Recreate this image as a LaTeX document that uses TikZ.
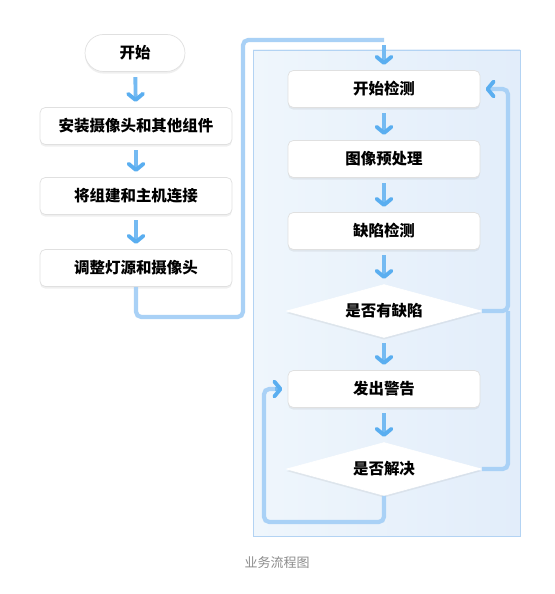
\documentclass[tikz,border=0pt]{standalone}
\usepackage{fontspec}
\setmainfont{Noto Sans CJK SC}
\usetikzlibrary{arrows.meta,shadows,shapes.geometric,positioning}

\definecolor{flowblue}{HTML}{74BAF2}
\definecolor{headblue}{HTML}{5AAEF0}
\definecolor{linkblue}{HTML}{A9D1F6}
\definecolor{panelline}{HTML}{B3D3F3}
\definecolor{panelleft}{HTML}{EFF6FC}
\definecolor{panelright}{HTML}{E2EDFA}

\begin{document}
\begin{tikzpicture}
[
	x	= 0.02cm,	% one unit is one pixel of the sketch
	y	= -0.02cm,	% and y runs downwards
	box/.style	= {draw=black!12, fill=white, rounded corners=3pt, minimum width=3.84cm, minimum height=0.74cm, font=\bfseries\fontsize{8.8}{10}\selectfont, drop shadow={opacity=0.12, shadow xshift=0pt, shadow yshift=-1.2pt}},
	pill/.style	= {box, rounded corners=0.37cm, minimum width=2cm},
	choice/.style	= {diamond, aspect=3.7, draw=white, fill=white, inner sep=0pt, minimum width=3.9cm, minimum height=1.06cm, font=\bfseries\fontsize{8.8}{10}\selectfont, drop shadow={opacity=0.12, shadow xshift=0pt, shadow yshift=-1.2pt}},
	flow/.style	= {-{Straight Barb[length=3.5pt, width=8.5pt, line width=2.2pt, round, color=headblue]}, color=flowblue, line width=2.2pt, shorten <=3pt, shorten >=3pt},
	link/.style	= {color=linkblue, line width=2.4pt, rounded corners=3pt},
]

\useasboundingbox [fill=white] (0,0) rectangle (554,594);

% the detection stage
\draw [draw=panelline, left color=panelleft, right color=panelright] (253,50) rectangle (520,536);

% setting up
\node [pill] (start) at (135,53) {开始};
\node [box] (mount) at (136,126) {安装摄像头和其他组件};
\node [box] (wire) at (136,196) {将组建和主机连接};
\node [box] (adjust) at (136,268) {调整灯源和摄像头};

\draw [flow] (start) -- (mount);
\draw [flow] (mount) -- (wire);
\draw [flow] (wire) -- (adjust);

% inspecting
\node [box] (detect) at (384,89) {开始检测};
\node [box] (prep) at (384,159) {图像预处理};
\node [box] (scan) at (384,231) {缺陷检测};
\node [choice] (defect) at (384,311) {是否有缺陷};
\node [box] (alert) at (384,389) {发出警告};
\node [choice] (solved) at (384,469) {是否解决};

\draw [flow] (detect) -- (prep);
\draw [flow] (prep) -- (scan);
\draw [flow] (scan) -- (defect);
\draw [flow] (defect) -- (alert);
\draw [flow] (alert) -- (solved);

% the loops
\draw [link] (adjust.south) -- (136,317) -- (243,317) -- (243,40) -- (384,40);
\draw [flow] (384,40) -- (detect.north);

\coordinate (rbend) at (508,311);
\draw [link] (defect.east) -- (rbend) |- (490,89);
\draw [flow, shorten <=0pt] (490,89) -- (detect.east);
\draw [link] (solved.east) -| (rbend);

\draw [link] (solved.south) |- (264,522) |- (275,389);
\draw [flow, shorten <=0pt] (275,389) -- (alert.west);

\node [text=black!45, font=\fontsize{7.4}{9}\selectfont] (title) at (277,563) {业务流程图};

\end{tikzpicture}
\end{document}
